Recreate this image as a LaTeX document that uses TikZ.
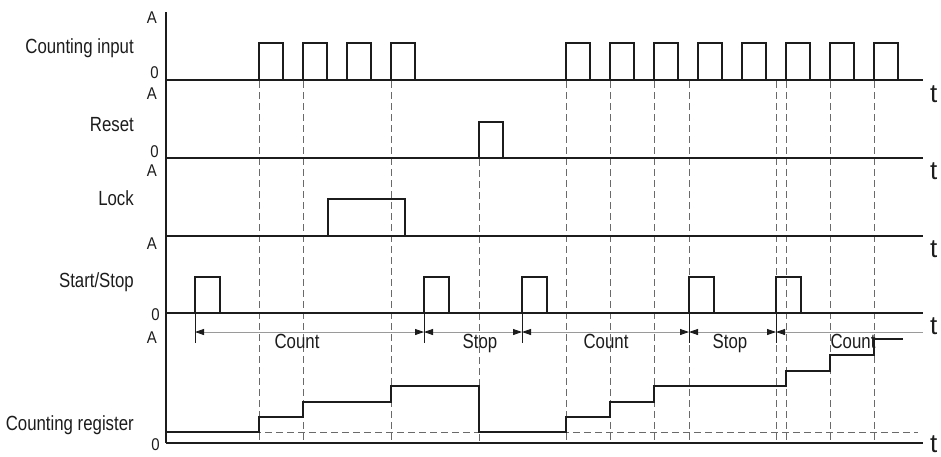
\documentclass[tikz,border=0pt]{standalone}
\usepackage{fontspec}
\setmainfont{Liberation Sans}[FakeStretch=0.82]
\newfontfamily\tfont{Liberation Sans}
\newfontfamily\afont{Liberation Sans}[FakeStretch=0.88]
\usetikzlibrary{arrows.meta}
\definecolor{ink}{HTML}{1C1C1C}
\definecolor{dashgray}{HTML}{6A6A6A}
\definecolor{dimgray}{HTML}{9A9A9A}
\tikzset{
  dimtip/.tip={Triangle[length=9pt,width=6pt,color=ink]},
  axisline/.style={draw=ink, line width=1.3pt},
  wave/.style={draw=ink, line width=1.4pt, line join=miter},
  guide/.style={draw=dashgray, line width=0.8pt, dash pattern=on 7pt off 4pt},
  extline/.style={draw=ink, line width=0.7pt},
  dimline/.style={draw=dimgray, line width=0.8pt},
  rowlabel/.style={anchor=base east, inner sep=0pt, text=ink, font=\fontsize{20.5}{24}\selectfont},
  alabel/.style={anchor=north east, inner sep=0pt, text=ink, font=\afont\fontsize{17}{20}\selectfont},
  tlabel/.style={anchor=north west, inner sep=0pt, text=ink, font=\tfont\fontsize{26}{28}\selectfont},
  dimlabel/.style={anchor=base, inner sep=0pt, text=ink, font=\fontsize{20.5}{24}\selectfont}
}
\begin{document}
\begin{tikzpicture}[x=1pt,y=-1pt]
\useasboundingbox (0,0) rectangle (941,456);
% guides (dashed verticals)
\foreach \x in {259,303,391,566,610,654,689,776,786,830,874}
  \draw[guide] (\x,81) -- (\x,443);
\draw[guide] (479,159) -- (479,443);
\draw[guide] (166,432) -- (918,432);
% axes
\draw[axisline] (166,12) -- (166,443);
\foreach \y in {80,158,236,313,443}
  \draw[axisline] (166,\y) -- (923,\y);
% counting input pulses
\foreach \x in {259,303,347,391,566,610,654,698,742,786,830,874}
  \draw[wave] (\x,80) -- (\x,43) -- (\x+24,43) -- (\x+24,80);
% reset pulse
\draw[wave] (479,158) -- (479,122) -- (503,122) -- (503,158);
% lock pulse
\draw[wave] (328,236) -- (328,199) -- (405,199) -- (405,236);
% start/stop pulses
\foreach \x in {195,424,522,689,776}
  \draw[wave] (\x,313) -- (\x,277) -- (\x+25,277) -- (\x+25,313);
% extension lines
\foreach \x in {195,424,522,689,776}
  \draw[extline] (\x,313) -- (\x,343);
% dimension line
\coordinate (d0) at (195,332);
\coordinate (d1) at (424,332);
\coordinate (d2) at (522,332);
\coordinate (d3) at (689,332);
\coordinate (d4) at (776,332);
\coordinate (d5) at (923,332);
\draw[dimline, dimtip-dimtip] (d0) -- (d1);
\draw[dimline, dimtip-dimtip] (d1) -- (d2);
\draw[dimline, dimtip-dimtip] (d2) -- (d3);
\draw[dimline, dimtip-dimtip] (d3) -- (d4);
\draw[dimline, dimtip-] (d4) -- (d5);
\node[dimlabel] (c1) at (297,348) {Count};
\node[dimlabel] (s1) at (480,348) {Stop};
\node[dimlabel] (c2) at (606,348) {Count};
\node[dimlabel] (s2) at (730,348) {Stop};
\node[dimlabel] (c3) at (853,348) {Count};
% counting register
\draw[wave] (166,432) -- (259,432) -- (259,417) -- (303,417) -- (303,402) -- (391,402) -- (391,386) -- (479,386) -- (479,432) -- (566,432) -- (566,417) -- (610,417) -- (610,402) -- (654,402) -- (654,386) -- (786,386) -- (786,371) -- (830,371) -- (830,355) -- (874,355) -- (874,339) -- (903,339);
% row labels
\node[rowlabel] (l1) at (134,53) {Counting input};
\node[rowlabel] (l2) at (134,131) {Reset};
\node[rowlabel] (l3) at (134,205) {Lock};
\node[rowlabel] (l4) at (134,287) {Start/Stop};
\node[rowlabel] (l5) at (134,430) {Counting register};
% A / 0 labels
\node[alabel] (a1) at (157,12) {A};
\node[alabel] (z1) at (159,66) {0};
\node[alabel] (a2) at (157,88) {A};
\node[alabel] (z2) at (159,145) {0};
\node[alabel] (a3) at (157,165) {A};
\node[alabel] (a4) at (157,238) {A};
\node[alabel] (z4) at (160,308) {0};
\node[alabel] (a5) at (157,332) {A};
\node[alabel] (z5) at (160,438) {0};
% t labels
\node[tlabel] (t1) at (930,85) {t};
\node[tlabel] (t2) at (930,162) {t};
\node[tlabel] (t3) at (930,240) {t};
\node[tlabel] (t4) at (930,317) {t};
\node[tlabel] (t5) at (930,435) {t};
\end{tikzpicture}
\end{document}
